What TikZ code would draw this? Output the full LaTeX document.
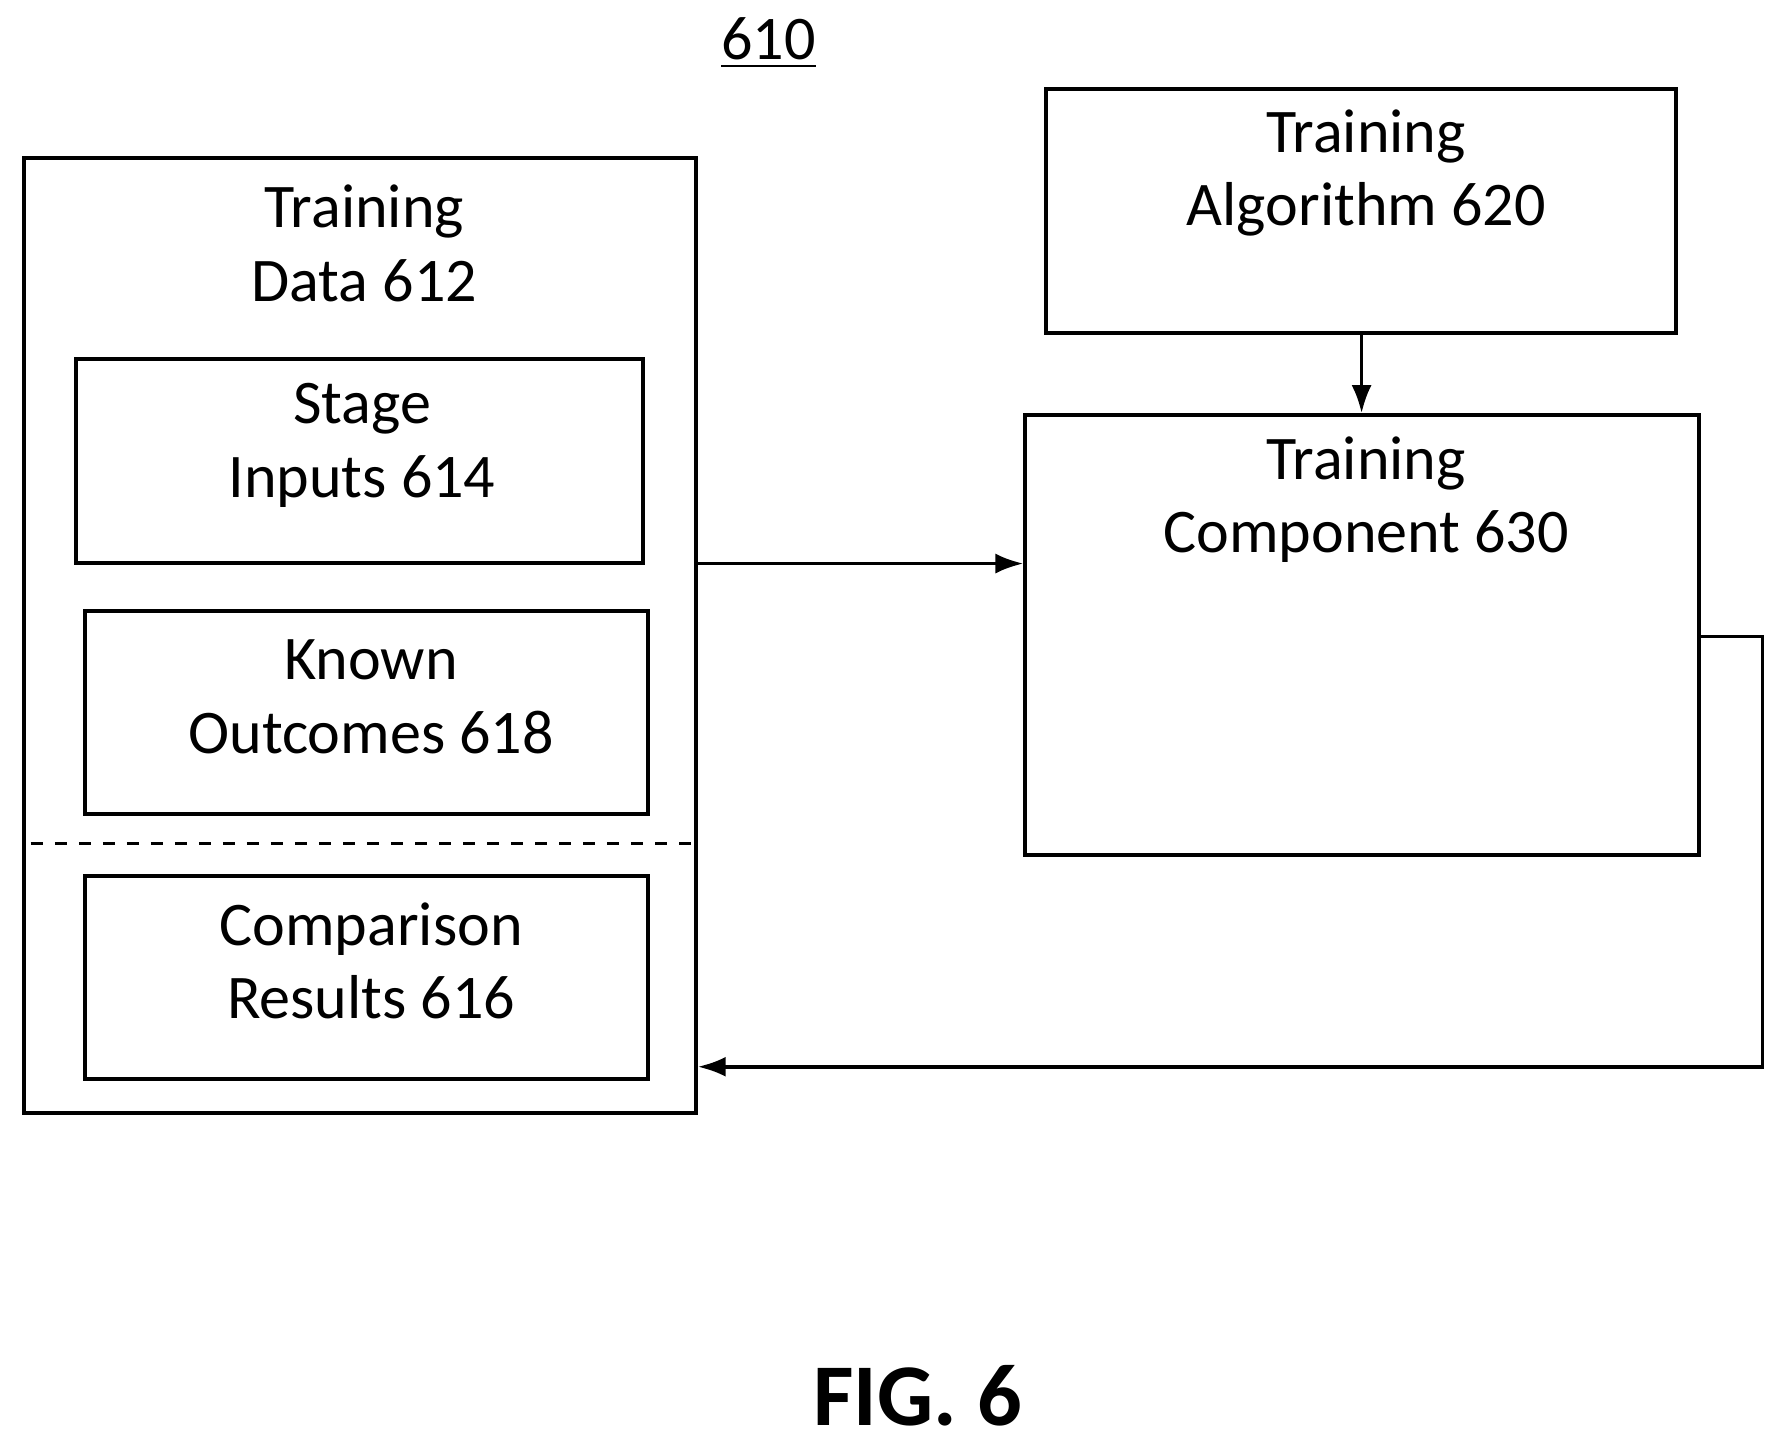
\documentclass[tikz,border=0pt]{standalone}
\usepackage{fontspec}
\setmainfont{Carlito}
\usetikzlibrary{positioning,arrows.meta}
\begin{document}
\begin{tikzpicture}[x=0.01cm,y=-0.01cm,
  box/.style={draw,line width=1pt,inner sep=0pt,anchor=north west},
  lbl/.style={align=center,font=\fontsize{15.5}{18.4}\selectfont},
  arr/.style={-{Latex[length=7pt,width=5pt]},line width=0.9pt}]
\useasboundingbox (0,0) rectangle (1560,1266);
\node[lbl] (num) at (675,38) {\underline{610}};
\node[box,minimum width=5.9cm,minimum height=8.38cm] (data) at (19,137) {};
\node[lbl] (datat) at (320,214) {Training\\Data 612};
\node[box,minimum width=4.98cm,minimum height=1.79cm] (stage) at (65,314) {};
\node[lbl] (staget) at (318,391) {Stage\\Inputs 614};
\node[box,minimum width=4.94cm,minimum height=1.78cm] (known) at (73,535) {};
\node[lbl] (knownt) at (326,612) {Known\\Outcomes 618};
\draw[dashed,line width=0.8pt] (27,741) -- (608,741);
\node[box,minimum width=4.94cm,minimum height=1.78cm] (comp) at (73,768) {};
\node[lbl] (compt) at (326,844) {Comparison\\Results 616};
\node[box,minimum width=5.53cm,minimum height=2.15cm] (algo) at (917,76) {};
\node[lbl] (algot) at (1200,152) {Training\\Algorithm 620};
\node[box,minimum width=5.91cm,minimum height=3.86cm] (train) at (899,363) {};
\node[lbl] (traint) at (1200,439) {Training\\Component 630};
\coordinate (c1) at (1548,559);
\coordinate (c2) at (1548,937);
\draw[arr] (data.east |- 0,495) -- (train.west |- 0,495);
\draw[arr] (algo.south -| 1196,0) -- (train.north -| 1196,0);
\draw[arr] (train.east |- c1) -- (c1) -- (c2) -- (data.east |- c2);
\node[font=\fontsize{22}{26}\selectfont\bfseries] (fig) at (806,1226) {FIG. 6};
\end{tikzpicture}
\end{document}
